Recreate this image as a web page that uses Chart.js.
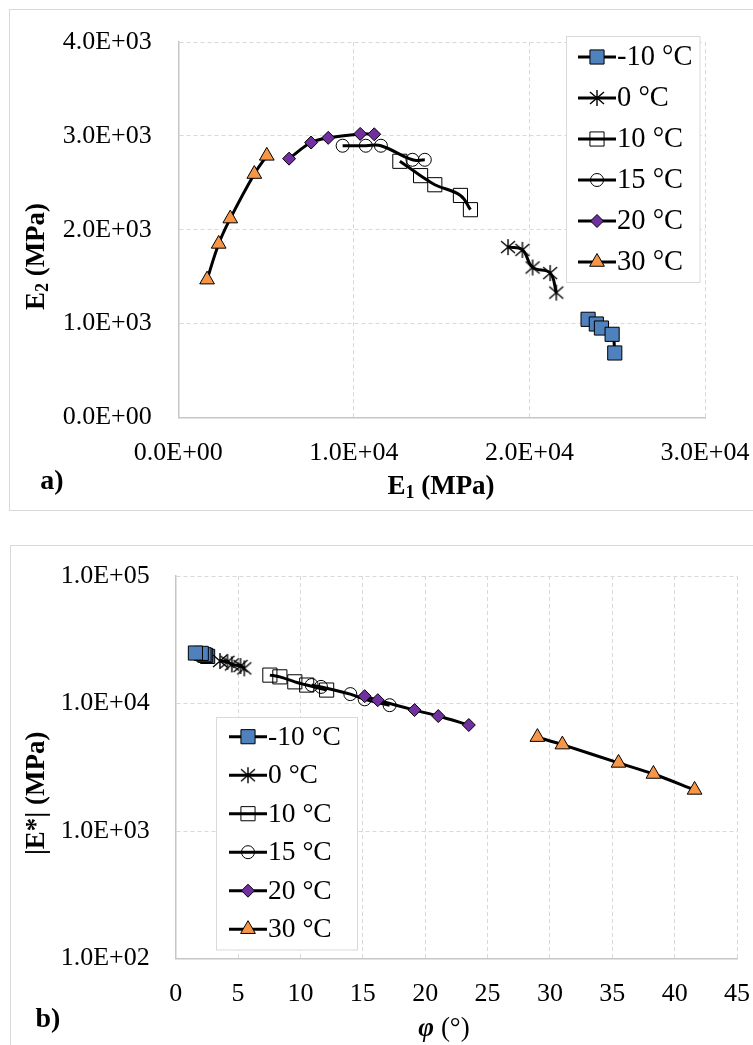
<!DOCTYPE html>
<html>
<head>
<meta charset="utf-8">
<script src="https://cdn.jsdelivr.net/npm/chart.js@4.4.1/dist/chart.umd.min.js"></script>
<style>
  body { margin: 0; background: #fff; }
  #page { position: relative; width: 753px; height: 1045px; overflow: hidden; background: #fff; }
  .frame { position: absolute; border: 1px solid #d9d9d9; box-sizing: border-box; }
  canvas { position: absolute; left: 0; }
</style>
</head>
<body>
<div id="page">
  <div class="frame" style="left:9px; top:9px; width:820px; height:502px;"></div>
  <div class="frame" style="left:10px; top:545px; width:820px; height:600px;"></div>
  <canvas id="chartA" width="800" height="520" style="top:0;"></canvas>
  <canvas id="chartB" width="800" height="525" style="top:520px;"></canvas>
</div>
<script>
// Storage / loss modulus (a) and Black-space |E*| vs phase angle (b)

const SERIF = '"Liberation Serif", "Times New Roman", serif';
Chart.defaults.font.family = SERIF;

const TEMPS = ['-10 °C', '0 °C', '10 °C', '15 °C', '20 °C', '30 °C'];

// a) E1 / E2 (MPa)
const E1_M10 = [23340, 23810, 24100, 24710, 24860];
const E2_M10 = [1045, 995, 952, 885, 686];
const E1_0   = [18780, 19600, 20180, 21180, 21530];
const E2_0   = [1815, 1785, 1598, 1538, 1330];
const E1_10  = [12620, 13800, 14610, 16070, 16640];
const E2_10  = [2730, 2577, 2480, 2366, 2214];
const E1_15  = [9360, 10680, 11540, 13340, 14040];
const E2_15  = [2896, 2896, 2896, 2746, 2746];
const E1_20  = [6310, 7565, 8540, 10360, 11160];
const E2_20  = [2758, 2930, 2980, 3022, 3018];
const E1_30  = [1640, 2300, 2960, 4330, 5040];
const E2_30  = [1468, 1849, 2119, 2594, 2788];

// b) phase angle (deg) / |E*| (MPa)
const PHI_M10 = [2.56, 2.40, 2.27, 2.05, 1.58];
const EST_M10 = [23400, 23830, 24120, 24720, 24880];
const PHI_0   = [5.50, 5.20, 4.50, 4.15, 3.55];
const EST_0   = [18870, 19680, 20270, 21210, 21540];
const PHI_10  = [12.1, 10.5, 9.55, 8.35, 7.55];
const EST_10  = [12750, 13950, 14790, 16180, 16700];
const PHI_15  = [17.15, 15.15, 14.0, 11.65, 10.9];
const EST_15  = [9700, 10780, 11850, 13500, 13950];
const PHI_20  = [23.5, 21.05, 19.15, 16.2, 15.15];
const EST_20  = [6780, 7970, 8880, 10620, 11420];
const PHI_30  = [41.6, 38.3, 35.5, 31.0, 29.0];
const EST_30  = [2100, 2800, 3420, 4760, 5450];

const X_TICKS_A = [0, 10000, 20000, 30000];
const Y_TICKS_A = [0, 1000, 2000, 3000, 4000];
const X_TICKS_B = [0, 5, 10, 15, 20, 25, 30, 35, 40, 45];
const Y_TICKS_B = [100, 1000, 10000, 100000];

// 10 and 15 °C markers are hollow: the line shows through them
const FILLS  = ['#4f81bd', '#000000', 'rgba(255,255,255,0)', 'rgba(255,255,255,0)', '#7030a0', '#f79646'];
const RADII  = [10, 8, 10, 6.5, 6.5, 8.5];

// Excel-like asterisk marker (vertical bar + X)
function makeAsterisk() {
    const c = document.createElement('canvas');
    c.width = 18; c.height = 18;
    const g = c.getContext('2d');
    g.strokeStyle = '#000';
    g.lineWidth = 1.4;
    g.beginPath();
    g.moveTo(9, 1);  g.lineTo(9, 17);
    g.moveTo(2, 3);  g.lineTo(16, 15);
    g.moveTo(2, 15); g.lineTo(16, 3);
    g.stroke();
    return c;
}
const STYLES = ['rect', makeAsterisk(), 'rect', 'circle', 'rectRot', 'triangle'];

function fmtE(v) {
    if (v === 0) return '0.0E+00';
    const exp = Math.floor(Math.log10(v) + 1e-9);
    const mant = v / Math.pow(10, exp);
    return mant.toFixed(1) + 'E' + (exp < 0 ? '-' : '+') + String(Math.abs(exp)).padStart(2, '0');
}

function makeSets(xs, ys, tension) {
    return TEMPS.map((t, i) => ({
        label: t,
        data: xs[i].map((x, j) => ({ x, y: ys[i][j] })),
        showLine: true,
        borderColor: '#000',
        borderWidth: 3,
        tension,
        backgroundColor: FILLS[i],
        pointStyle: STYLES[i],
        pointRadius: RADII[i],
        pointHoverRadius: RADII[i],
        pointBackgroundColor: FILLS[i],
        pointBorderColor: '#000',
        pointBorderWidth: 1,
        order: TEMPS.length - i
    }));
}

const TICK_FONT = { family: SERIF, size: 26 };

function axis(min, max, tickList, fmt, fit, pad, extra) {
    return Object.assign({
        min, max,
        afterBuildTicks: ax => { ax.ticks = tickList.map(v => ({ value: v })); },
        afterFit: fit,
        ticks: { font: TICK_FONT, color: '#000', padding: pad, callback: fmt, autoSkip: false, maxRotation: 0 },
        grid: { color: '#d9d9d9', lineWidth: 1, drawTicks: false },
        border: { display: true, color: '#c6c6c6', width: 1.5, dash: [4, 3] }
    }, extra || {});
}

function richText(ctx, parts, cx, cy, angle) {
    ctx.save();
    ctx.translate(cx, cy);
    ctx.rotate(angle);
    ctx.textBaseline = 'middle';
    ctx.textAlign = 'left';
    ctx.fillStyle = '#000';
    let w = 0;
    parts.forEach(p => { ctx.font = p.font; p.w = ctx.measureText(p.t).width; w += p.w; });
    let x = -w / 2;
    parts.forEach(p => { ctx.font = p.font; ctx.fillText(p.t, x, p.dy || 0); x += p.w; });
    ctx.restore();
}

function insetLegend(cfg) {
    return {
        id: 'insetLegend',
        afterDraw(chart) {
            const ctx = chart.ctx;
            ctx.save();
            ctx.fillStyle = '#fff';
            ctx.fillRect(cfg.x, cfg.y, cfg.w, cfg.h);
            ctx.strokeStyle = '#d9d9d9';
            ctx.lineWidth = 1;
            ctx.strokeRect(cfg.x, cfg.y, cfg.w, cfg.h);
            chart.data.datasets.forEach((ds, i) => {
                const y = cfg.row0 + i * cfg.step;
                ctx.strokeStyle = '#000';
                ctx.lineWidth = 3;
                ctx.beginPath();
                ctx.moveTo(cfg.lx0, y);
                ctx.lineTo(cfg.lx1, y);
                ctx.stroke();
                ctx.fillStyle = ds.pointBackgroundColor;
                ctx.strokeStyle = '#000';
                ctx.lineWidth = 1;
                Chart.helpers.drawPoint(ctx, {
                    pointStyle: ds.pointStyle, radius: ds.pointRadius, rotation: 0, borderWidth: 1
                }, (cfg.lx0 + cfg.lx1) / 2, y);
                ctx.fillStyle = '#000';
                ctx.font = cfg.size + 'px ' + SERIF;
                ctx.textBaseline = 'middle';
                ctx.textAlign = 'left';
                ctx.fillText(ds.label, cfg.tx, y + 1);
            });
            ctx.restore();
        }
    };
}

function titles(list) {
    return {
        id: 'titles',
        afterDraw(chart) {
            list.forEach(t => richText(chart.ctx, t.parts, t.x, t.y, t.angle || 0));
        }
    };
}

const B27 = 'bold 27px ' + SERIF;
const B18 = 'bold 18px ' + SERIF;

// chart a
new Chart(document.getElementById('chartA'), {
    type: 'scatter',
    data: {
        datasets: makeSets(
            [E1_M10, E1_0, E1_10, E1_15, E1_20, E1_30],
            [E2_M10, E2_0, E2_10, E2_15, E2_20, E2_30], 0.4)
    },
    options: {
        responsive: false,
        animation: false,
        layout: { padding: { top: 32.5, right: 95, bottom: 0, left: 0 } },
        plugins: { legend: { display: false }, tooltip: { enabled: false } },
        scales: {
            x: axis(0, 30000, X_TICKS_A, v => fmtE(v), ax => { ax.height = 102.7; }, 20, { type: 'linear' }),
            y: axis(0, 4000, Y_TICKS_A, v => fmtE(v), ax => { ax.width = 178.3; }, 26.6, { type: 'linear' })
        }
    },
    plugins: [
        insetLegend({ x: 566.5, y: 36.5, w: 133.5, h: 246, row0: 57, step: 41, lx0: 578, lx1: 616, tx: 617, size: 28.5 }),
        titles([
            { parts: [{ t: 'E', font: B27 }, { t: '1', font: B18, dy: 6 }, { t: ' (MPa)', font: B27 }], x: 441, y: 487 },
            { parts: [{ t: 'E', font: B27 }, { t: '2', font: B18, dy: 6 }, { t: ' (MPa)', font: B27 }], x: 37.5, y: 256.5, angle: -Math.PI / 2 },
            { parts: [{ t: 'a)', font: 'bold 28px ' + SERIF }], x: 52, y: 482 }
        ])
    ]
});

// chart b
new Chart(document.getElementById('chartB'), {
    type: 'scatter',
    data: {
        datasets: makeSets(
            [PHI_M10, PHI_0, PHI_10, PHI_15, PHI_20, PHI_30],
            [EST_M10, EST_0, EST_10, EST_15, EST_20, EST_30], 0.3)
    },
    options: {
        responsive: false,
        animation: false,
        layout: { padding: { top: 56, right: 63, bottom: 0, left: 0 } },
        plugins: { legend: { display: false }, tooltip: { enabled: false } },
        scales: {
            x: axis(0, 45, X_TICKS_B, v => String(v), ax => { ax.height = 86.5; }, 20, { type: 'linear' }),
            y: axis(100, 100000, Y_TICKS_B, v => fmtE(v), ax => { ax.width = 175.7; }, 26, { type: 'logarithmic' })
        }
    },
    plugins: [
        insetLegend({ x: 216.5, y: 197.5, w: 141, h: 232.5, row0: 216.7, step: 38.5, lx0: 229, lx1: 267, tx: 268, size: 27.5 }),
        titles([
            { parts: [{ t: 'φ', font: 'italic bold 27px ' + SERIF }, { t: ' (°)', font: '27px ' + SERIF }], x: 444, y: 509 },
            { parts: [{ t: '|E*| (MPa)', font: B27 }], x: 36.7, y: 273.3, angle: -Math.PI / 2 },
            { parts: [{ t: 'b)', font: 'bold 28px ' + SERIF }], x: 48, y: 500 }
        ])
    ]
});
</script>
</body>
</html>
